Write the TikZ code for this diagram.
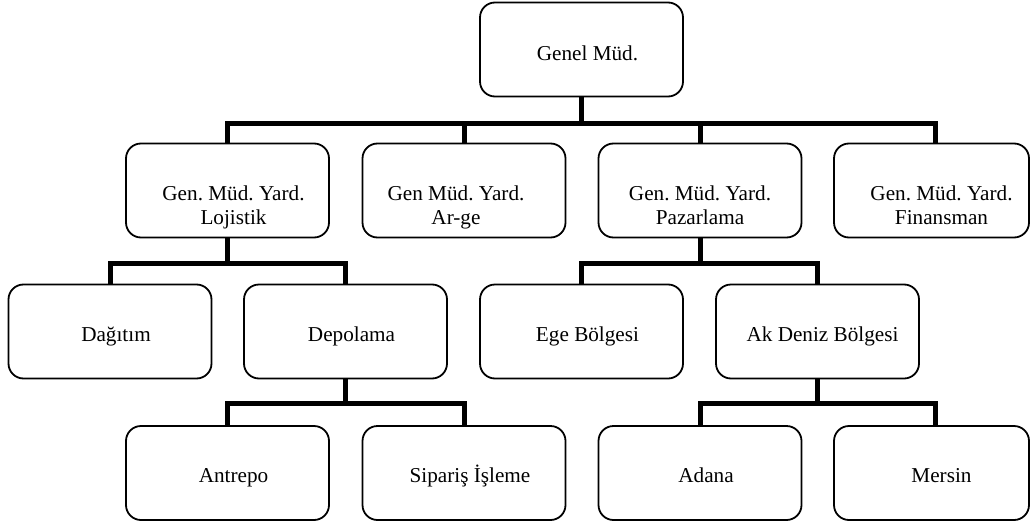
\documentclass[tikz,border=0pt]{standalone}
\usepackage{fontspec}
\setmainfont{Liberation Serif}
\frenchspacing
\begin{document}
\begin{tikzpicture}[x=1pt,y=-1pt,
  box/.style={draw,line width=1.8pt,rounded corners=15pt,minimum width=203pt,minimum height=94pt,inner sep=0pt},
  wbox/.style={box,minimum width=195pt},
  txt/.style={font=\fontsize{21.2}{24}\selectfont,align=center,anchor=base,inner sep=0pt},
  conn/.style={line width=5pt}]
\useasboundingbox (0,0) rectangle (1030,527);
% boxes
\node[box] (genel) at (581.5,49.5) {};
\node[box] (lojistik) at (227.5,190.5) {};
\node[box] (arge) at (464,190.5) {};
\node[box] (pazar) at (700,190.5) {};
\node[wbox] (fin) at (931.5,190.5) {};
\node[box] (dagitim) at (110,331.5) {};
\node[box] (depolama) at (345.5,331.5) {};
\node[box] (ege) at (581.5,331.5) {};
\node[box] (akdeniz) at (817.5,331.5) {};
\node[box] (antrepo) at (227.5,473) {};
\node[box] (siparis) at (464,473) {};
\node[box] (adana) at (700,473) {};
\node[wbox] (mersin) at (931.5,473) {};
% texts
\node[txt] (genelT) at ([xshift=6pt,yshift=-59pt]genel.north) {Genel Müd.};
\node[txt] (lojistikT) at ([xshift=6pt,yshift=-82pt]lojistik.north) {Gen. Müd. Yard.\\Lojistik};
\node[txt] (argeT) at ([xshift=-8pt,yshift=-82pt]arge.north) {Gen Müd. Yard.\\Ar-ge};
\node[txt] (pazarT) at ([xshift=0pt,yshift=-82pt]pazar.north) {Gen. Müd. Yard.\\Pazarlama};
\node[txt] (finT) at ([xshift=10pt,yshift=-82pt]fin.north) {Gen. Müd. Yard.\\Finansman};
\node[txt] (dagitimT) at ([xshift=6pt,yshift=-58pt]dagitim.north) {Dağıtım};
\node[txt] (depolamaT) at ([xshift=6pt,yshift=-58pt]depolama.north) {Depolama};
\node[txt] (egeT) at ([xshift=6pt,yshift=-58pt]ege.north) {Ege Bölgesi};
\node[txt] (akdenizT) at ([xshift=5pt,yshift=-58pt]akdeniz.north) {Ak Deniz Bölgesi};
\node[txt] (antrepoT) at ([xshift=6pt,yshift=-57pt]antrepo.north) {Antrepo};
\node[txt] (siparisT) at ([xshift=6pt,yshift=-57pt]siparis.north) {Sipariş İşleme};
\node[txt] (adanaT) at ([xshift=6pt,yshift=-57pt]adana.north) {Adana};
\node[txt] (mersinT) at ([xshift=10pt,yshift=-57pt]mersin.north) {Mersin};
% connectors
\coordinate (b1) at (581.5,123);
\draw[conn] (genel.south) -- (b1);
\draw[conn] (lojistik.north) |- (b1) -| ([xshift=3.5pt]fin.north);
\draw[conn] (arge.north) -- (arge.north |- b1);
\draw[conn] (pazar.north) -- (pazar.north |- b1);
\coordinate (b2) at (227.5,263);
\draw[conn] (lojistik.south) -- (b2);
\draw[conn] (dagitim.north) |- (b2) -| (depolama.north);
\coordinate (b3) at (700,263);
\draw[conn] (pazar.south) -- (b3);
\draw[conn] (ege.north) |- (b3) -| (akdeniz.north);
\coordinate (b4) at (345.5,403);
\draw[conn] (depolama.south) -- (b4);
\draw[conn] (antrepo.north) |- (b4) -| (siparis.north);
\coordinate (b5) at (817.5,403);
\draw[conn] (akdeniz.south) -- (b5);
\draw[conn] (adana.north) |- (b5) -| ([xshift=3.5pt]mersin.north);
\end{tikzpicture}
\end{document}
